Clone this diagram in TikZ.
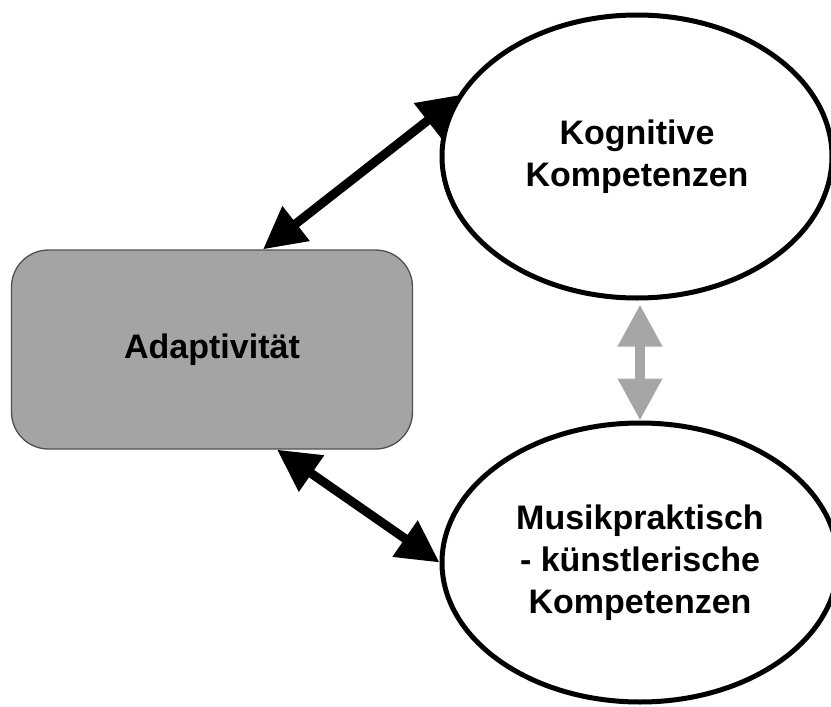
\documentclass[tikz,border=0pt]{standalone}
\usepackage{fontspec}
\setmainfont{Liberation Sans}
\usetikzlibrary{arrows.meta,shapes.geometric}
\definecolor{boxgray}{HTML}{A4A4A4}
\definecolor{boxline}{HTML}{505050}
\definecolor{linkgray}{HTML}{A6A6A6}
\begin{document}
\begin{tikzpicture}[x=1pt,y=-1pt,
  label/.style={font=\fontsize{34}{42}\selectfont\bfseries,align=center},
  topic/.style={label,ellipse,draw=black,line width=5pt,fill=white},
  hub/.style={label,rectangle,rounded corners=37pt,draw=boxline,line width=1.3pt,fill=boxgray,
    minimum width=401pt,minimum height=199pt},
  blk/.style={line width=9pt,{Triangle[length=42pt,width=42pt]}-{Triangle[length=42pt,width=42pt]}},
  gry/.style={draw=linkgray,line width=10pt,{Triangle[length=42pt,width=42pt]}-{Triangle[length=42pt,width=42pt]}}]
  \useasboundingbox (0,0) rectangle (831,707);
  \begin{scope}
    \clip (0,0) rectangle (831,707);
    % the three topics
    \node[hub] (a) at (212,349.5) {Adaptivität};
    \node[topic,minimum width=390pt,minimum height=283pt] (k) at (637,156.5) {Kognitive\\Kompetenzen};
    \node[topic,minimum width=396pt,minimum height=279pt] (m) at (640,562.5) {Musikpraktisch\\- künstlerische\\Kompetenzen};
    % links between them
    \draw[blk,shorten >=-5pt] (a.63.3) -- (k.162.6);
    \draw[blk] (a.-57.4) -- (m.west);
    \draw[gry,shorten >=4pt] (m.north) -- (m.north |- k.south);
  \end{scope}
\end{tikzpicture}
\end{document}
